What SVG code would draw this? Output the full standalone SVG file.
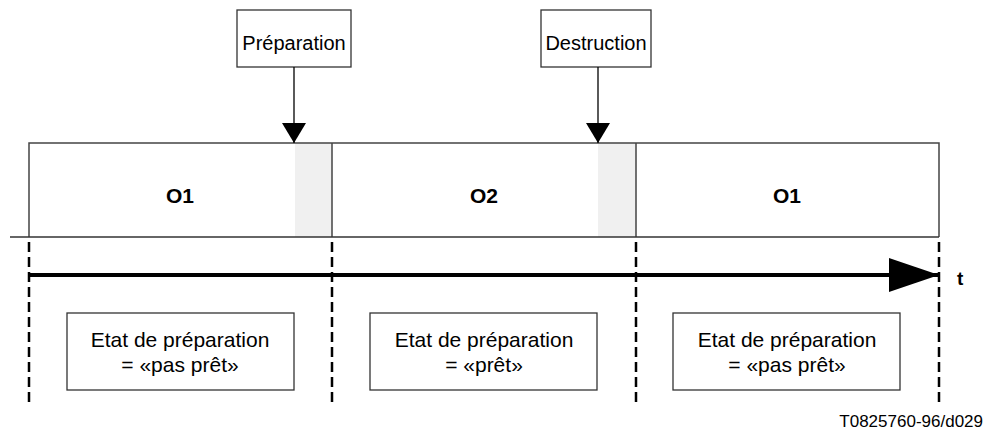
<svg xmlns="http://www.w3.org/2000/svg" width="986" height="434" viewBox="0 0 986 434">
  <style>
    text { font-family: "Liberation Sans", Arial, sans-serif; fill: #000; }
    .lbl { font-size: 20px; text-anchor: middle; }
    .state { font-size: 21px; text-anchor: middle; }
    .op { font-size: 21px; font-weight: bold; text-anchor: middle; }
    .box { fill: #fff; stroke: #333; stroke-width: 1.3; }
    .band { fill: none; stroke: #444; stroke-width: 1.5; }
    .shade { fill: #f0f0f0; stroke: none; }
    .dash { stroke: #000; stroke-width: 2.5; stroke-dasharray: 10 5; }
    .ev { stroke: #000; stroke-width: 1.3; }
  </style>
  <defs>
    <marker id="headSmall" viewBox="0 0 20 24" refX="20" refY="12" markerWidth="20" markerHeight="24" markerUnits="userSpaceOnUse" orient="auto">
      <path d="M0,0 L20,12 L0,24 z" fill="#000"/>
    </marker>
    <marker id="headBig" viewBox="0 0 50 34" refX="50" refY="17" markerWidth="50" markerHeight="34" markerUnits="userSpaceOnUse" orient="auto">
      <path d="M0,0 L50,17 L0,34 z" fill="#000"/>
    </marker>
  </defs>

  <!-- operation band -->
  <g id="band">
    <rect class="shade" x="295" y="143" width="37" height="94"/>
    <rect class="shade" x="598" y="143" width="38" height="94"/>
    <path class="band" d="M29,237 V143 H939 V237 M332,143 V237 M636,143 V237"/>
    <line x1="10" y1="237" x2="939" y2="237" stroke="#333" stroke-width="1.5"/>
  </g>
  <g id="op1"><text class="op" x="180" y="203">O1</text></g>
  <g id="op2"><text class="op" x="484" y="203">O2</text></g>
  <g id="op3"><text class="op" x="787" y="203">O1</text></g>

  <!-- event boxes -->
  <g id="ev-preparation">
    <rect class="box" x="237" y="10" width="114" height="57"/>
    <text class="lbl" x="294" y="50">Préparation</text>
  </g>
  <g id="ev-destruction">
    <rect class="box" x="541" y="10" width="110" height="57"/>
    <text class="lbl" x="596" y="50">Destruction</text>
  </g>

  <!-- state boxes -->
  <g id="state1">
    <rect class="box" x="67" y="313" width="227" height="77"/>
    <text class="state" x="180" y="347">Etat de préparation</text>
    <text class="state" x="180" y="372">= «pas prêt»</text>
  </g>
  <g id="state2">
    <rect class="box" x="370" y="313" width="227" height="77"/>
    <text class="state" x="484" y="347">Etat de préparation</text>
    <text class="state" x="484" y="372">= «prêt»</text>
  </g>
  <g id="state3">
    <rect class="box" x="673" y="313" width="227" height="77"/>
    <text class="state" x="787" y="347">Etat de préparation</text>
    <text class="state" x="787" y="372">= «pas prêt»</text>
  </g>

  <!-- connectors -->
  <g id="connectors">
    <line class="ev" x1="294" y1="67" x2="294" y2="143" marker-end="url(#headSmall)"/>
    <line class="ev" x1="598" y1="67" x2="598" y2="143" marker-end="url(#headSmall)"/>
    <line x1="28" y1="275" x2="939" y2="275" stroke="#000" stroke-width="4" marker-end="url(#headBig)"/>
    <line class="dash" x1="29" y1="242" x2="29" y2="406"/>
    <line class="dash" x1="332" y1="242" x2="332" y2="406"/>
    <line class="dash" x1="636" y1="242" x2="636" y2="406"/>
    <line class="dash" x1="939" y1="242" x2="939" y2="406"/>
  </g>

  <g id="axis-label"><text x="957" y="285" font-size="19" font-weight="bold">t</text></g>
  <text x="983" y="427" font-size="17" text-anchor="end">T0825760-96/d029</text>
</svg>
